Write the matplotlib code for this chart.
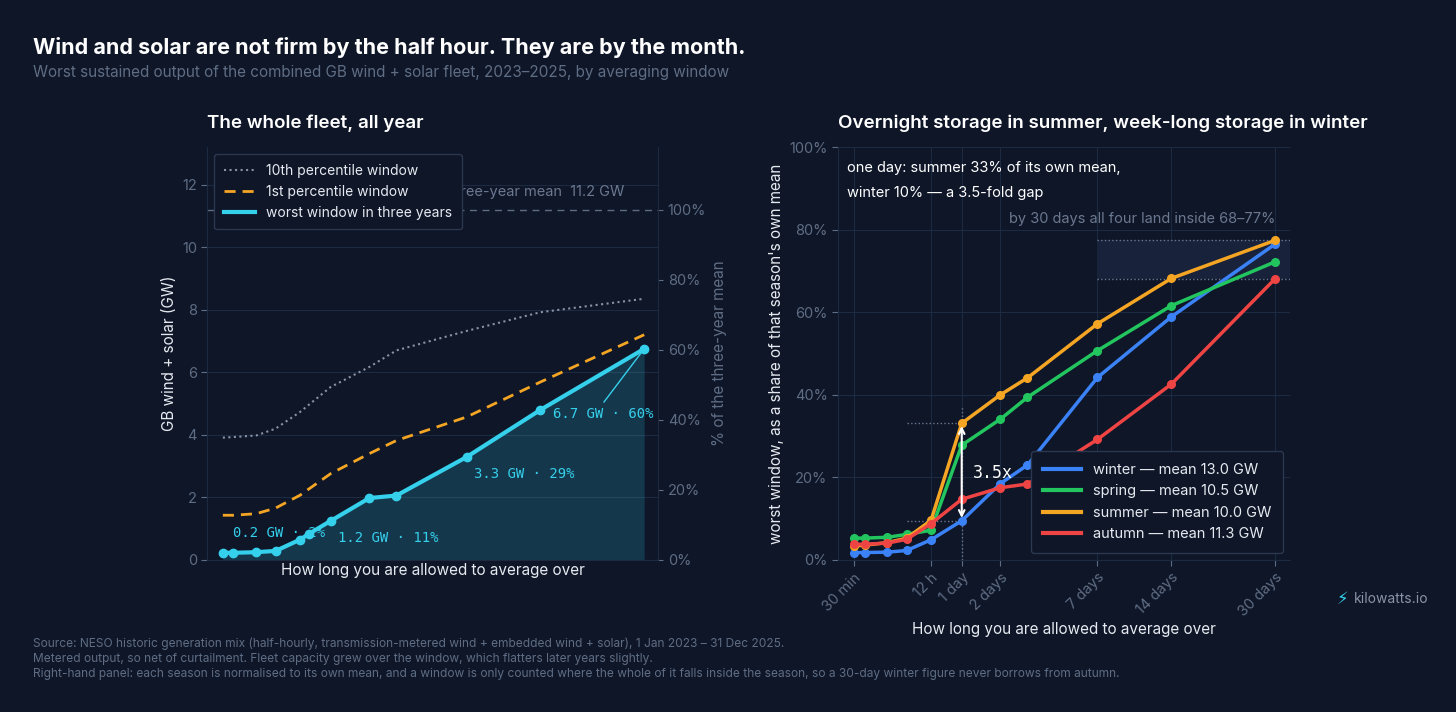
import numpy as np
import matplotlib
matplotlib.use("Agg")
import matplotlib.pyplot as plt
from matplotlib.lines import Line2D

plt.rcParams['font.family'] = ['Inter', 'DejaVu Sans']

BG = '#0e1628'
GRID = '#1e2a40'
TICK = '#5f6d84'
CYAN = '#35d0ec'

# ---- data ----
tick_hours = [0.5, 12, 24, 48, 168, 336, 720]
tick_labels = ['30 min', '12 h', '1 day', '2 days', '7 days', '14 days', '30 days']

left_hours = [0.5, 1, 3, 6, 12, 15, 24, 48, 72, 168, 336, 720]
worst_gw = [0.23, 0.23, 0.25, 0.29, 0.65, 0.84, 1.25, 1.98, 2.06, 3.29, 4.80, 6.75]
pct_hours = [0.5, 1, 3, 6, 12, 24, 48, 72, 168, 336, 720]
p1_gw = [1.43, 1.43, 1.48, 1.66, 2.07, 2.76, 3.40, 3.82, 4.57, 5.69, 7.20]
p10_gw = [3.91, 3.93, 3.98, 4.20, 4.73, 5.53, 6.17, 6.70, 7.32, 7.92, 8.35]
mean_gw = 11.2

season_hours = [0.5, 1, 3, 6, 12, 24, 48, 72, 168, 336, 720]
winter = [1.8, 1.8, 1.9, 2.3, 4.9, 9.5, 18.5, 23.0, 44.2, 58.9, 76.5]
spring = [5.3, 5.3, 5.5, 6.2, 7.2, 27.8, 34.1, 39.4, 50.7, 61.6, 72.2]
summer = [3.4, 3.6, 4.2, 5.3, 9.6, 33.1, 40.0, 44.1, 57.2, 68.2, 77.4]
autumn = [3.8, 3.8, 4.1, 5.0, 8.8, 14.7, 17.5, 18.4, 29.2, 42.6, 68.1]
season_names = ['winter — mean 13.0 GW', 'spring — mean 10.5 GW',
                'summer — mean 10.0 GW', 'autumn — mean 11.3 GW']
season_colors = ['#3b82f6', '#22c55e', '#f5a524', '#ef4444']

fwd = lambda x: np.cbrt(x)
inv = lambda x: np.power(x, 3)

fig = plt.figure(figsize=(14.56, 7.12), dpi=100, facecolor=BG)

def style(ax):
    ax.set_facecolor(BG)
    ax.set_xscale('function', functions=(fwd, inv))
    for s in ax.spines.values():
        s.set_color(GRID)
    ax.spines['top'].set_visible(False)
    ax.tick_params(colors=TICK, labelsize=10.5, length=4)
    ax.grid(True, color=GRID, lw=0.8)
    ax.set_axisbelow(True)

def xticks(ax):
    ax.set_xticks(tick_hours)
    ax.set_xticks([], minor=True)
    ax.set_xticklabels(tick_labels, rotation=45, ha='right', rotation_mode='anchor')
    ax.set_xlabel('How long you are allowed to average over', color='#e6eaf0', fontsize=11, labelpad=2)

# ---- left ----
ax = fig.add_axes([0.1425, 0.2135, 0.3095, 0.58])
style(ax)
ax.set_ylim(0, 13.2)
ax.set_yticks([0, 2, 4, 6, 8, 10, 12])
ax.spines['right'].set_visible(False)
ax.plot(pct_hours, p10_gw, ':', color='#8a93a6', lw=1.5)
ax.plot(pct_hours, p1_gw, '--', color='#f5a524', lw=2, dashes=(4, 2.5))
ax.fill_between(left_hours, worst_gw, 0, color=CYAN, alpha=0.18, lw=0)
ax.plot(left_hours, worst_gw, '-o', color=CYAN, lw=3, ms=6)
ax.axhline(mean_gw, color='#5f6d84', ls='--', lw=1, dashes=(5, 4))
ax.text(630, 11.75, 'three-year mean  11.2 GW', color='#6b7890', fontsize=10.5, ha='right', va='center')
ax.set_ylabel('GB wind + solar (GW)', color='#e6eaf0', fontsize=11)
mono = dict(family='DejaVu Sans Mono', color=CYAN, fontsize=10, va='center')
ax.text(1, 0.86, '0.2 GW · 2%', **mono)
ax.text(27.9, 0.70, '1.2 GW · 11%', **mono)
ax.text(181, 2.75, '3.3 GW · 29%', **mono)
ax.text(371, 4.67, '6.7 GW · 60%', **mono)
ax.plot([548, 720], [5.05, 6.75], color=CYAN, lw=1)
handles = [Line2D([], [], ls=':', color='#8a93a6', lw=1.5),
           Line2D([], [], ls='--', color='#f5a524', lw=2, dashes=(4, 2.5)),
           Line2D([], [], color=CYAN, lw=3)]
leg = ax.legend(handles, ['10th percentile window', '1st percentile window', 'worst window in three years'],
                loc='upper left', fontsize=10, facecolor=BG, edgecolor='#2c3850',
                labelcolor='#e6eaf0', framealpha=1, borderpad=0.7, handlelength=2.2)
ax2 = ax.twinx()
ax2.set_xscale('function', functions=(fwd, inv))
ax2.set_ylim(0, 13.2 / mean_gw * 100)
ax2.set_yticks([0, 20, 40, 60, 80, 100])
ax2.set_yticklabels([f'{v}%' for v in [0, 20, 40, 60, 80, 100]])
ax2.tick_params(colors=TICK, labelsize=10.5)
for s in ax2.spines.values():
    s.set_visible(False)
ax2.spines['right'].set_visible(True)
ax2.spines['right'].set_color(GRID)
ax2.set_ylabel('% of the three-year mean', color=TICK, fontsize=11)
ax.set_xlim(0.122, 787)
ax2.set_xlim(0.122, 787)
xticks(ax)
ax2.set_xticks([])
ax2.set_xticks([], minor=True)
ax.set_title('The whole fleet, all year', color='white', fontsize=13.5, loc='left', pad=14, fontweight='semibold')

# ---- right ----
bx = fig.add_axes([0.5755, 0.2135, 0.3105, 0.58])
style(bx)
bx.set_xlim(0.113, 792)
xticks(bx)
bx.set_ylim(0, 100)
bx.set_yticks([0, 20, 40, 60, 80, 100])
bx.set_yticklabels([f'{v}%' for v in [0, 20, 40, 60, 80, 100]])
bx.spines['right'].set_visible(False)
bx.fill_between([168, 792], 68.1, 77.4, color='#18223a', lw=0)
for yv in (68.1, 77.4):
    bx.plot([168, 792], [yv, yv], ':', color='#6b7890', lw=1)
bx.text(720, 81.5, 'by 30 days all four land inside 68–77%', color='#6b7890', fontsize=10.5, ha='right')
bx.plot([6, 24], [33.1, 33.1], ':', color='#6b7890', lw=1)
bx.plot([6, 24], [9.5, 9.5], ':', color='#6b7890', lw=1)
bx.plot([24, 24], [0, 37], ':', color='#6b7890', lw=1)
for vals, name, col in zip([winter, spring, summer, autumn], season_names, season_colors):
    bx.plot(season_hours, vals, '-o', color=col, lw=2.5, ms=5.5)
bx.annotate('', xy=(24, 33.1), xytext=(24, 9.5),
            arrowprops=dict(arrowstyle='<->', color='white', lw=1.5))
bx.text(30, 21, '3.5x', family='DejaVu Sans Mono', color='white', fontsize=12, va='center')
bx.text(0.02, 0.965, 'one day: summer 33% of its own mean,\nwinter 10% — a 3.5-fold gap', transform=bx.transAxes,
        color='white', fontsize=10.5, va='top', linespacing=2.0)
bx.set_ylabel("worst window, as a share of that season's own mean", color='#e6eaf0', fontsize=11)
sh = [Line2D([], [], color=c, lw=3) for c in season_colors]
bx.legend(sh, season_names, loc='lower right', fontsize=10.5, facecolor=BG, edgecolor='#2c3850',
          labelcolor='#e6eaf0', framealpha=1, borderpad=0.8, handlelength=2.6)
bx.set_title('Overnight storage in summer, week-long storage in winter', color='white',
             fontsize=13.5, loc='left', pad=14, fontweight='semibold')

# ---- header / footer ----
fig.text(33 / 1456, 1 - 47 / 712, 'Wind and solar are not firm by the half hour. They are by the month.',
         color='white', fontsize=15.5, fontweight='bold', va='center')
fig.text(33 / 1456, 1 - 72 / 712, 'Worst sustained output of the combined GB wind + solar fleet, 2023–2025, by averaging window',
         color='#5f6d84', fontsize=11, va='center')
foot = ('Source: NESO historic generation mix (half-hourly, transmission-metered wind + embedded wind + solar), 1 Jan 2023 – 31 Dec 2025.\n'
        'Metered output, so net of curtailment. Fleet capacity grew over the window, which flatters later years slightly.\n'
        'Right-hand panel: each season is normalised to its own mean, and a window is only counted where the whole of it falls inside the season, so a 30-day winter figure never borrows from autumn.')
fig.text(33 / 1456, 1 - 638 / 712, foot, color='#5f6d84', fontsize=8.6, va='top', linespacing=1.3)
fig.text(1337 / 1456, 1 - 599 / 712, '⚡', color=CYAN, fontsize=12, va='center', family='DejaVu Sans')
fig.text(1354 / 1456, 1 - 599 / 712, 'kilowatts.io', color='#8a93a6', fontsize=10, va='center')

fig.savefig('out.png', dpi=100, facecolor=BG)
